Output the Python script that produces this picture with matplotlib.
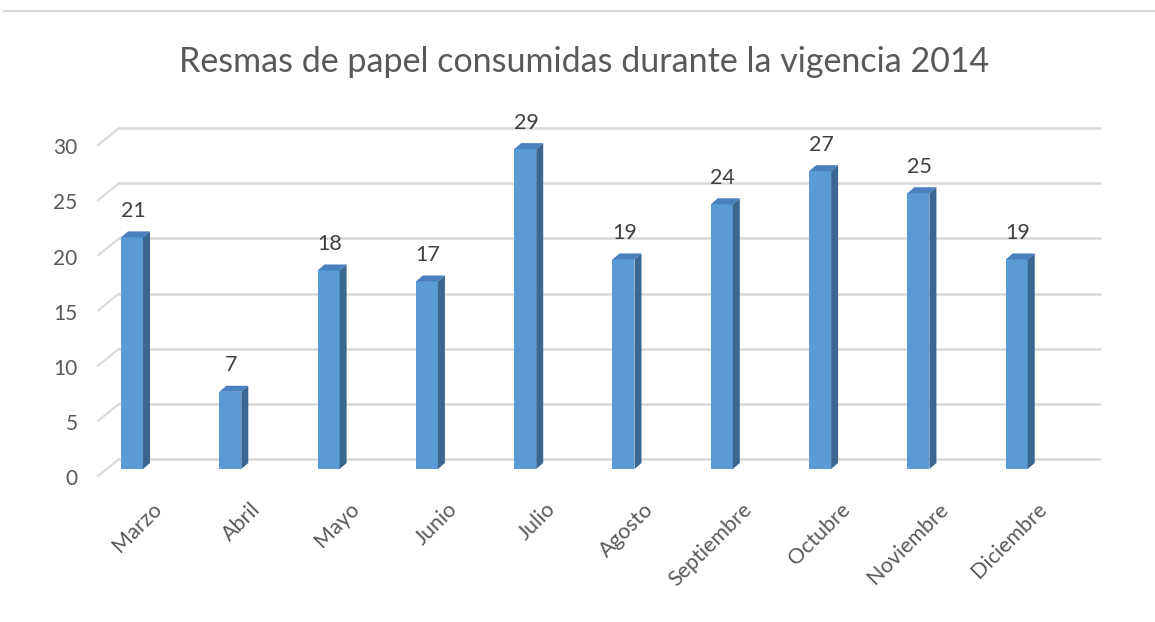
import matplotlib
matplotlib.use("Agg")
from matplotlib import pyplot as plt
from matplotlib.patches import Polygon
import numpy as np

months = ["Marzo", "Abril", "Mayo", "Junio", "Julio", "Agosto",
          "Septiembre", "Octubre", "Noviembre", "Diciembre"]
resmas = [21, 7, 18, 17, 29, 19, 24, 27, 25, 19]
yticks = [0, 5, 10, 15, 20, 25, 30]
title = "Resmas de papel consumidas durante la vigencia 2014"

plt.rcParams['font.family'] = ['Lato', 'DejaVu Sans']

W, H = 1155, 622
fig = plt.figure(figsize=(W / 100.0, H / 100.0), dpi=100)

# pixel -> data mapping: bar plane, x step 98.3 px, y 11.03 px per unit
x0px, xstep = 132.0, 98.3
y0px, ystep = 469.0, 11.03


def dx(px):
    return (px - x0px) / xstep


def dy(px):
    return (y0px - px) / ystep


left, right, top, bottom = 90, 1110, 110, 485
ax = fig.add_axes([left / W, 1 - bottom / H, (right - left) / W, (bottom - top) / H])
ax.set_xlim(dx(left), dx(right))
ax.set_ylim(dy(bottom), dy(top))
for s in ax.spines.values():
    s.set_visible(False)
ax.set_xticks([])

# 3d floor/wall gridlines
back = 10 / ystep
front = 7 / ystep
grid_c = '#d9d9d9'
for v in yticks:
    ax.plot([dx(119), dx(1100)], [v + back, v + back], color=grid_c, lw=1.8, zorder=1)
    ax.plot([dx(98), dx(119)], [v - front, v + back], color=grid_c, lw=1.5, zorder=1)

ax.set_yticks([v - front - 0.1 for v in yticks])
ax.set_yticklabels([str(v) for v in yticks])
ax.tick_params(axis='y', length=0, pad=9, labelsize=15, labelcolor='#595959')

# bars with fake depth
w = 22 / xstep
ddx = 7 / xstep
ddy = 6 / ystep
x = np.arange(len(months))
ax.bar(x, resmas, width=w, color='#5b9bd5', zorder=3)
for i, v in zip(x, resmas):
    r = i + w / 2
    l = i - w / 2
    ax.add_patch(Polygon([(r, 0), (r + ddx, ddy), (r + ddx, v + ddy), (r, v)],
                         closed=True, color='#3b6690', zorder=3, lw=0))
    ax.add_patch(Polygon([(l, v), (r, v), (r + ddx, v + ddy), (l + ddx, v + ddy)],
                         closed=True, color='#4a80bd', zorder=3, lw=0))
    ax.text(i + 0.01, v + 2.4, str(v), ha='center', va='center',
            fontsize=15.5, color='#404040')
    ax.text(i + 20 / xstep, dy(499), months[i], rotation=45, rotation_mode='anchor',
            ha='right', va='top', fontsize=15.5, color='#595959', clip_on=False)

fig.text(584 / W, 1 - 62 / H, title, ha='center', va='center', fontsize=24.5, color='#595959')

# thin border line at top
fig.add_artist(plt.Line2D([4 / W, 1], [1 - 11 / H, 1 - 11 / H], color='#d9d9d9', lw=1.5))

fig.savefig("out.png", dpi=100)
